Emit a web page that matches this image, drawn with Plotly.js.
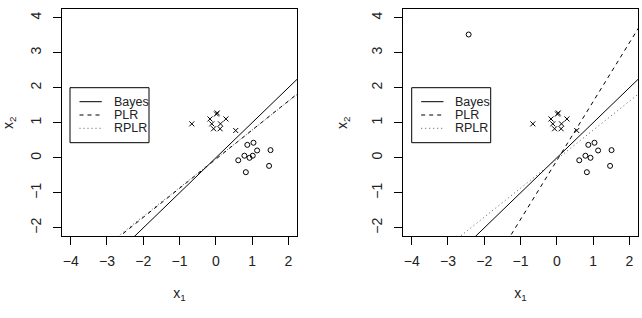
<!DOCTYPE html>
<html>
<head>
<meta charset="utf-8">
<script src="https://cdn.plot.ly/plotly-3.0.1.min.js"></script>
<style>html,body{margin:0;padding:0;background:#fff;}#chart{width:642px;height:318px;}</style>
</head>
<body>
<div id="chart"></div>
<script>
// Class "x" points (same in both panels)
const crossX = [-0.66, -0.16, -0.11, -0.06, 0.02, 0.04, 0.13, 0.12, 0.28, 0.55];
const crossY = [0.97, 1.11, 0.97, 0.83, 1.25, 1.28, 0.97, 0.83, 1.11, 0.78];
// Class "o" points, left panel
const circleX1 = [0.87, 1.04, 1.14, 1.51, 0.62, 0.79, 0.93, 1.02, 1.47, 0.83];
const circleY1 = [0.37, 0.43, 0.21, 0.22, -0.07, 0.06, 0.00, 0.06, -0.23, -0.41];
// Class "o" points, right panel (one point moved to an outlier)
const circleX2 = [0.87, 1.04, 1.14, 1.51, 0.62, 0.79, 0.93, -2.43, 1.47, 0.83];
const circleY2 = [0.37, 0.43, 0.21, 0.22, -0.07, 0.06, 0.00, 3.52, -0.23, -0.41];
// Decision boundaries: [intercept, slope]
const lineNames = ["Bayes", "PLR", "RPLR"];
const linesLeft  = [[0, 1], [-0.04, 0.83], [-0.03, 0.82]];
const linesRight = [[0, 1], [-0.08, 1.68], [-0.04, 0.827]];
const xTicks = [-4, -3, -2, -1, 0, 1, 2];
const yTicks = [-2, -1, 0, 1, 2, 3, 4];

const W = 642, H = 318;
const FONT = "Liberation Sans, Arial, Helvetica, sans-serif";
const TXT = "#222";
const lineStyles = [
  {color: "#000", width: 1, dash: "solid"},
  {color: "#000", width: 1, dash: "4px,4px"},
  {color: "#555", width: 1, dash: "1px,3px"}
];
const xs = [-6, 4];

function pointTraces(cx, cy, ox, oy, xa, ya) {
  return [
    {x: cx, y: cy, xaxis: xa, yaxis: ya, mode: "markers", type: "scatter", showlegend: false,
     marker: {symbol: "x-thin-open", size: 5, color: "#000", line: {color: "#000", width: 1}}},
    {x: ox, y: oy, xaxis: xa, yaxis: ya, mode: "markers", type: "scatter", showlegend: false,
     marker: {symbol: "circle-open", size: 5, color: "#000", line: {color: "#000", width: 1}}}
  ];
}
function lineTraces(coefs, xa, ya) {
  return coefs.map((c, i) => ({
    x: xs, y: xs.map(v => c[0] + c[1] * v), xaxis: xa, yaxis: ya,
    mode: "lines", type: "scatter", name: lineNames[i], showlegend: false,
    line: lineStyles[i], hoverinfo: "skip"
  }));
}

const data = [].concat(
  pointTraces(crossX, crossY, circleX1, circleY1, "x", "y"),
  pointTraces(crossX, crossY, circleX2, circleY2, "x2", "y2"),
  lineTraces(linesLeft, "x", "y"),
  lineTraces(linesRight, "x2", "y2")
);

function xax(domain, anchor) {
  return {domain: domain, anchor: anchor, range: [-4.24, 2.24], tickvals: xTicks,
    ticks: "outside", ticklen: 8, tickcolor: "#000", ticklabelstandoff: 4,
    showline: true, mirror: true, linecolor: "#000", linewidth: 1,
    showgrid: false, zeroline: false, tickfont: {family: FONT, size: 14, color: TXT},
    title: {text: "x<sub>1</sub>", font: {family: FONT, size: 14, color: TXT}, standoff: 20}};
}
function yax(domain, anchor) {
  return {domain: domain, anchor: anchor, range: [-2.24, 4.24], tickvals: yTicks,
    ticks: "outside", ticklen: 8, tickcolor: "#000", tickangle: -90, ticklabelstandoff: 6,
    showline: true, mirror: true, linecolor: "#000", linewidth: 1,
    showgrid: false, zeroline: false, tickfont: {family: FONT, size: 14, color: TXT},
    title: {text: "x<sub>2</sub>", font: {family: FONT, size: 14, color: TXT}, standoff: 18}};
}

// Hand-built legend boxes (pixel layout converted to paper coordinates)
const shapes = [], annotations = [];
function addLegend(left) {
  const top = 87.7, bottom = 142.7, right = left + 79;
  shapes.push({type: "rect", xref: "paper", yref: "paper",
    x0: left / W, x1: right / W, y0: 1 - bottom / H, y1: 1 - top / H,
    line: {color: "#000", width: 1}, fillcolor: "#fff", layer: "above"});
  const rows = [101.7, 115, 128.3];
  lineNames.forEach((nm, i) => {
    const yy = 1 - rows[i] / H;
    shapes.push({type: "line", xref: "paper", yref: "paper",
      x0: (left + 9.5) / W, x1: (left + 31.8) / W, y0: yy, y1: yy,
      line: lineStyles[i], layer: "above"});
    annotations.push({xref: "paper", yref: "paper", x: (left + 41.5) / W, y: yy,
      xanchor: "left", yanchor: "middle", showarrow: false, text: nm,
      font: {family: FONT, size: 12.5, color: TXT}});
  });
}
addLegend(70);
addLegend(411.7);

const yDom = [0.2569, 0.9708];
const layout = {
  width: W, height: H, margin: {l: 0, r: 0, t: 0, b: 0},
  paper_bgcolor: "#fff", plot_bgcolor: "#fff", showlegend: false,
  xaxis: xax([0.0966, 0.4626], "y"),
  yaxis: yax(yDom, "x"),
  xaxis2: xax([0.6277, 0.9938], "y2"),
  yaxis2: yax(yDom, "x2"),
  shapes: shapes, annotations: annotations,
  font: {family: FONT}
};
Plotly.newPlot("chart", data, layout, {staticPlot: true, displayModeBar: false});
</script>
</body>
</html>
